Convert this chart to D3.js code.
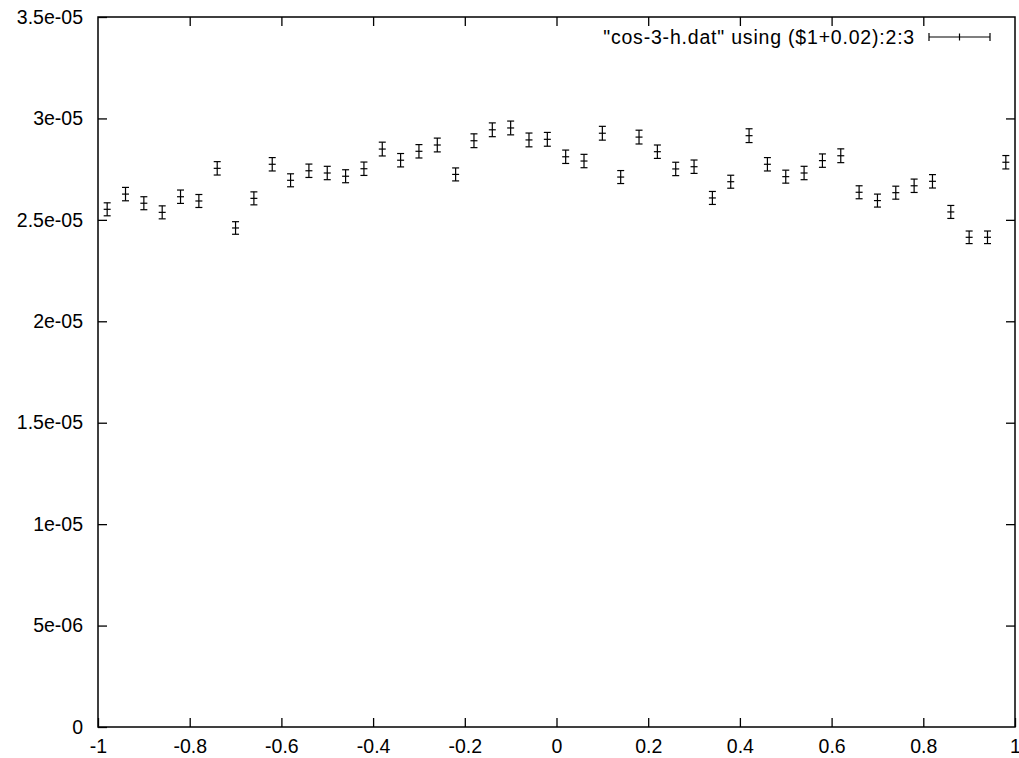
<!DOCTYPE html>
<html>
<head>
<meta charset="utf-8">
<script src="https://cdn.jsdelivr.net/npm/d3@7"></script>
<style>
  body { margin: 0; background: #fff; }
  svg { display: block; }
  svg text { font-family: "Liberation Sans", Arial, sans-serif; font-size: 19.5px; fill: #000; }
</style>
</head>
<body>
<div id="chart"></div>
<script>
  // data: x = $1 + 0.02, y in units of 1e-5, err in units of 1e-5
  const xValues = [
    -0.98, -0.94, -0.90, -0.86, -0.82, -0.78, -0.74, -0.70, -0.66, -0.62,
    -0.58, -0.54, -0.50, -0.46, -0.42, -0.38, -0.34, -0.30, -0.26, -0.22,
    -0.18, -0.14, -0.10, -0.06, -0.02, 0.02, 0.06, 0.10, 0.14, 0.18,
    0.22, 0.26, 0.30, 0.34, 0.38, 0.42, 0.46, 0.50, 0.54, 0.58,
    0.62, 0.66, 0.70, 0.74, 0.78, 0.82, 0.86, 0.90, 0.94, 0.98
  ];
  const yValues = [
    2.552, 2.627, 2.582, 2.537, 2.614, 2.593, 2.754, 2.460, 2.606, 2.774,
    2.695, 2.742, 2.731, 2.715, 2.752, 2.849, 2.794, 2.838, 2.869, 2.724,
    2.890, 2.944, 2.953, 2.894, 2.897, 2.811, 2.790, 2.927, 2.711, 2.908,
    2.836, 2.751, 2.762, 2.608, 2.688, 2.915, 2.774, 2.713, 2.731, 2.792,
    2.816, 2.636, 2.595, 2.634, 2.668, 2.690, 2.539, 2.414, 2.414, 2.784
  ];
  const yErrors = [
    0.032, 0.033, 0.032, 0.032, 0.033, 0.032, 0.033, 0.031, 0.032, 0.033,
    0.032, 0.033, 0.033, 0.032, 0.033, 0.034, 0.033, 0.033, 0.034, 0.032,
    0.034, 0.034, 0.034, 0.034, 0.034, 0.033, 0.033, 0.034, 0.032, 0.034,
    0.033, 0.033, 0.033, 0.032, 0.032, 0.034, 0.033, 0.032, 0.033, 0.033,
    0.034, 0.032, 0.032, 0.032, 0.033, 0.033, 0.032, 0.031, 0.031, 0.033
  ];
  const xTicks = [-1, -0.8, -0.6, -0.4, -0.2, 0, 0.2, 0.4, 0.6, 0.8, 1];
  const xTickLabels = ["-1", "-0.8", "-0.6", "-0.4", "-0.2", "0", "0.2", "0.4", "0.6", "0.8", "1"];
  const yTicks = [0, 0.5, 1, 1.5, 2, 2.5, 3, 3.5];
  const yTickLabels = ["0", "5e-06", "1e-05", "1.5e-05", "2e-05", "2.5e-05", "3e-05", "3.5e-05"];
  const legendLabel = "\"cos-3-h.dat\" using ($1+0.02):2:3";

  const W = 1019, H = 758;
  const margin = { top: 17, right: 4, bottom: 31, left: 98 };
  const width = W - margin.left - margin.right,
    height = H - margin.top - margin.bottom;
  const tickLen = 9, cap = 3.5;

  const x = d3.scaleLinear().domain([-1, 1]).range([0, width]);
  const y = d3.scaleLinear().domain([0, 3.5]).range([height, 0]);

  const svg = d3.select("#chart").append("svg")
    .attr("width", W)
    .attr("height", H);

  const g = svg.append("g")
    .attr("transform", "translate(" + margin.left + "," + margin.top + ")");

  // axes: gnuplot style, ticks pointing inward and mirrored
  g.append("g")
    .attr("transform", "translate(0," + height + ")")
    .call(d3.axisBottom(x).tickValues(xTicks).tickSize(-tickLen).tickPadding(7)
      .tickFormat((d, i) => xTickLabels[i]))
    .selectAll("text").attr("dy", "0.95em");

  g.append("g")
    .call(d3.axisLeft(y).tickValues(yTicks).tickSize(-tickLen).tickPadding(15)
      .tickFormat((d, i) => yTickLabels[i]));

  g.append("g")
    .call(d3.axisTop(x).tickValues(xTicks.slice(1, -1)).tickSize(-tickLen).tickFormat(""));
  g.append("g")
    .attr("transform", "translate(" + width + ",0)")
    .call(d3.axisRight(y).tickValues(yTicks.slice(1, -1)).tickSize(-tickLen).tickFormat(""));

  g.selectAll(".domain").remove();
  g.selectAll(".tick line").attr("stroke", "#000").attr("stroke-width", 1.3);
  g.selectAll(".tick text")
    .style("font-family", "'Liberation Sans', Arial, sans-serif")
    .style("font-size", "19.5px");

  g.append("rect")
    .attr("width", width)
    .attr("height", height)
    .attr("fill", "none")
    .attr("stroke", "#000")
    .attr("stroke-width", 1.5);

  // error bars with '+' point marker
  const points = xValues.map((v, i) => ({ x: v, y: yValues[i], e: yErrors[i] }));
  const bars = g.append("g")
    .attr("stroke", "#000")
    .attr("stroke-width", 1.2)
    .selectAll("g")
    .data(points)
    .join("g")
    .attr("transform", d => "translate(" + x(d.x) + ",0)");

  bars.append("line")
    .attr("y1", d => y(d.y - d.e))
    .attr("y2", d => y(d.y + d.e));
  bars.append("line")
    .attr("x1", -cap).attr("x2", cap)
    .attr("y1", d => y(d.y + d.e)).attr("y2", d => y(d.y + d.e));
  bars.append("line")
    .attr("x1", -cap).attr("x2", cap)
    .attr("y1", d => y(d.y - d.e)).attr("y2", d => y(d.y - d.e));
  bars.append("line")
    .attr("x1", -cap).attr("x2", cap)
    .attr("y1", d => y(d.y)).attr("y2", d => y(d.y));

  // legend
  const legend = svg.append("g")
    .attr("transform", "translate(" + 915 + "," + 37 + ")");
  legend.append("text")
    .attr("text-anchor", "end")
    .attr("dy", "0.35em")
    .style("letter-spacing", "0.8px")
    .text(legendLabel);
  const ls = legend.append("g").attr("stroke", "#000").attr("stroke-width", 1.2);
  ls.append("line").attr("x1", 14).attr("x2", 75).attr("y1", 0).attr("y2", 0);
  ls.append("line").attr("x1", 14).attr("x2", 14).attr("y1", -4).attr("y2", 4);
  ls.append("line").attr("x1", 75).attr("x2", 75).attr("y1", -4).attr("y2", 4);
  ls.append("line").attr("x1", 44.5).attr("x2", 44.5).attr("y1", -3.5).attr("y2", 3.5);
</script>
</body>
</html>
